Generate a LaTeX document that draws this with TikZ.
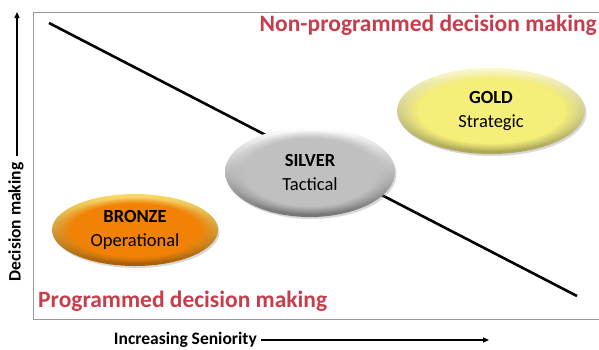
\documentclass[tikz,border=0pt]{standalone}
\usepackage{fontspec}
\setmainfont{Carlito}
\usetikzlibrary{shadows,arrows.meta,shapes.geometric,fadings}
\definecolor{redtxt}{RGB}{200,60,75}
\definecolor{bronze}{RGB}{242,130,5}
\definecolor{silverc}{RGB}{192,192,192}
\definecolor{goldc}{RGB}{245,238,120}
\tikzset{
  oval/.style={ellipse, inner sep=0pt, draw=none, drop shadow={shadow xshift=1.5pt, shadow yshift=-2pt, opacity=0.3}},
  core/.style={path fading=circle with fuzzy edge 20 percent},
  lbl/.style={font=\fontsize{18.5}{24}\selectfont, align=center, text=black},
  cat/.style={font=\fontsize{23.5}{28}\selectfont\bfseries, text=redtxt, inner sep=0pt},
  axis/.style={font=\fontsize{17.5}{20}\selectfont\bfseries, inner sep=0pt},
}
\begin{document}
\begin{tikzpicture}[x=1pt,y=-1pt]
\useasboundingbox (0,0) rectangle (599,349);
% frame
\draw[gray!80, line width=1pt] (599,12) -- (33.5,12) -- (33.5,319) -- (599,319);
% diagonal
\coordinate (d1) at (49,23);
\coordinate (d2) at (577,296);
\draw[line width=2.6pt] (d1) -- (d2);
% categories
\node[cat, anchor=east] (np) at (597,25) {Non-programmed decision making};
\node[cat, anchor=west] (pr) at (38,301) {Programmed decision making};
% ellipses
\node[oval, minimum width=166pt, minimum height=72pt, top color=bronze!50!yellow!60, bottom color=bronze!70!black] (bronze) at (135,230) {};
\fill[bronze, core] (bronze.center) ellipse [x radius=80pt, y radius=33pt];
\node[lbl] at (bronze) {\textbf{BRONZE}\\Operational};
\node[oval, minimum width=170pt, minimum height=90pt, top color=white, bottom color=silverc!60!black] (silver) at (310,172) {};
\fill[silverc, core] (silver.center) ellipse [x radius=82pt, y radius=42pt];
\node[lbl] at (silver) {\textbf{SILVER}\\Tactical};
\node[oval, minimum width=188pt, minimum height=86pt, top color=goldc!40!white, bottom color=goldc!70!black] (gold) at (491,111) {};
\fill[goldc, core] (gold.center) ellipse [x radius=91pt, y radius=40pt];
\node[lbl] at (gold) {\textbf{GOLD}\\Strategic};
% axes
\node[axis, rotate=90] (ylab) at (16,222) {Decision making};
\coordinate (ytop) at (17,12);
\coordinate (ybot) at (17,156);
\draw[line width=1.3pt, -{Triangle[length=6pt,width=5pt]}] (ybot) -- (ytop);
\node[axis, anchor=east] (xlab) at (257,340) {Increasing Seniority};
\coordinate (xstart) at (261,340);
\coordinate (xend) at (489,340);
\draw[line width=1.3pt, -{Triangle[length=6pt,width=5pt]}] (xstart) -- (xend);
\end{tikzpicture}
\end{document}
